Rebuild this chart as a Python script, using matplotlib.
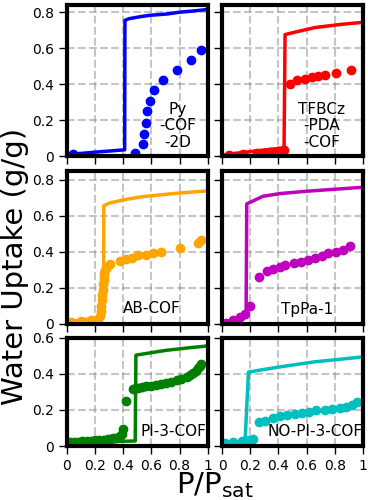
import numpy as np
import matplotlib.pyplot as plt
from matplotlib.ticker import FormatStrFormatter

plt.rcParams['mathtext.default'] = 'regular'

names = ["Py\n-COF\n-2D", "TFBCz\n-PDA\n-COF", "AB-COF", "TpPa-1", "PI-3-COF", "NO-PI-3-COF"]
colors = ['b', 'r', 'orange', 'm', 'g', 'c']

# simulated isotherms (lines)
py_line_x = [0, 0.1, 0.2, 0.3, 0.41, 0.412, 0.44, 0.52, 0.59, 0.71, 0.8, 0.9, 1.0]
py_line_y = [0.011, 0.017, 0.024, 0.03, 0.037, 0.755, 0.764, 0.775, 0.783, 0.79, 0.80, 0.807, 0.815]
tf_line_x = [0, 0.1, 0.2, 0.3, 0.44, 0.447, 0.52, 0.66, 0.85, 1.0]
tf_line_y = [0.008, 0.018, 0.027, 0.036, 0.048, 0.676, 0.69, 0.715, 0.733, 0.744]
ab_line_x = [0, 0.1, 0.22, 0.26, 0.262, 0.305, 0.42, 0.54, 0.78, 1.0]
ab_line_y = [0.01, 0.02, 0.035, 0.04, 0.655, 0.67, 0.69, 0.705, 0.724, 0.737]
tp_line_x = [0, 0.08, 0.17, 0.175, 0.29, 0.41, 0.6, 0.8, 1.0]
tp_line_y = [0.0, 0.018, 0.035, 0.665, 0.707, 0.722, 0.735, 0.746, 0.757]
pi_line_x = [0, 0.1, 0.2, 0.3, 0.4, 0.485, 0.49, 0.7, 0.87, 1.0]
pi_line_y = [0.018, 0.02, 0.022, 0.024, 0.026, 0.028, 0.504, 0.53, 0.545, 0.555]
no_line_x = [0, 0.08, 0.163, 0.187, 0.3, 0.42, 0.66, 0.85, 1.0]
no_line_y = [0.005, 0.016, 0.028, 0.41, 0.425, 0.44, 0.467, 0.482, 0.494]

# experimental isotherms (points)
py_pts_x = [0.04, 0.48, 0.54, 0.55, 0.56, 0.57, 0.59, 0.62, 0.68, 0.78, 0.88, 0.95]
py_pts_y = [0.015, 0.02, 0.07, 0.126, 0.185, 0.25, 0.31, 0.367, 0.426, 0.478, 0.535, 0.593]
tf_pts_x = [0.05, 0.15, 0.25, 0.3, 0.35, 0.4, 0.44, 0.48, 0.53, 0.59, 0.64, 0.68, 0.73, 0.81, 0.915]
tf_pts_y = [0.01, 0.015, 0.02, 0.02, 0.025, 0.03, 0.035, 0.404, 0.426, 0.431, 0.44, 0.444, 0.45, 0.463, 0.478]
ab_pts_x = [0.03, 0.1, 0.17, 0.22, 0.235, 0.24, 0.245, 0.25, 0.25, 0.255, 0.255, 0.26, 0.26, 0.265,
            0.27, 0.28, 0.305, 0.375, 0.42, 0.46, 0.505, 0.565, 0.61, 0.67, 0.80, 0.93, 0.955]
ab_pts_y = [0.01, 0.015, 0.02, 0.026, 0.045, 0.07, 0.1, 0.13, 0.16, 0.19, 0.22, 0.245, 0.265, 0.283,
            0.3, 0.31, 0.33, 0.347, 0.357, 0.366, 0.379, 0.384, 0.393, 0.397, 0.42, 0.449, 0.467]
tp_pts_x = [0.03, 0.08, 0.13, 0.165, 0.2, 0.26, 0.32, 0.36, 0.41, 0.45, 0.51, 0.56, 0.61, 0.66,
            0.71, 0.75, 0.81, 0.86, 0.91]
tp_pts_y = [0.005, 0.02, 0.04, 0.055, 0.1, 0.26, 0.29, 0.305, 0.313, 0.325, 0.335, 0.345, 0.355, 0.365,
            0.375, 0.39, 0.40, 0.41, 0.43]
pi_pts_x = [0.02, 0.05, 0.08, 0.11, 0.14, 0.17, 0.2, 0.23, 0.26, 0.29, 0.31, 0.33, 0.35, 0.37, 0.38,
            0.39, 0.395, 0.42, 0.47, 0.49, 0.505, 0.53, 0.565, 0.6, 0.635, 0.67, 0.705, 0.74,
            0.78, 0.81, 0.85, 0.875, 0.895, 0.915, 0.93, 0.945, 0.955]
pi_pts_y = [0.02, 0.022, 0.024, 0.026, 0.028, 0.03, 0.032, 0.034, 0.036, 0.038, 0.04, 0.042, 0.045,
            0.05, 0.055, 0.065, 0.094, 0.25, 0.315, 0.32, 0.323, 0.327, 0.332, 0.335, 0.338, 0.343,
            0.35, 0.357, 0.365, 0.373, 0.384, 0.394, 0.406, 0.418, 0.43, 0.443, 0.454]
no_pts_x = [0.02, 0.08, 0.14, 0.19, 0.22, 0.26, 0.305, 0.36, 0.41, 0.46, 0.52, 0.565, 0.62, 0.67,
            0.73, 0.78, 0.84, 0.88, 0.92, 0.955]
no_pts_y = [0.015, 0.02, 0.028, 0.033, 0.037, 0.131, 0.14, 0.157, 0.166, 0.172, 0.177, 0.185, 0.19,
            0.197, 0.2, 0.205, 0.212, 0.218, 0.227, 0.245]

lines = [(py_line_x, py_line_y), (tf_line_x, tf_line_y), (ab_line_x, ab_line_y),
         (tp_line_x, tp_line_y), (pi_line_x, pi_line_y), (no_line_x, no_line_y)]
points = [(py_pts_x, py_pts_y), (tf_pts_x, tf_pts_y), (ab_pts_x, ab_pts_y),
          (tp_pts_x, tp_pts_y), (pi_pts_x, pi_pts_y), (no_pts_x, no_pts_y)]
label_pos = [(0.79, 0.17), (0.707, 0.17), (0.6, 0.083), (0.606, 0.08), (0.754, 0.08), (0.658, 0.08)]
ytops = [0.84, 0.84, 0.85, 0.85, 0.6, 0.6]

fig, axes = plt.subplots(3, 2, figsize=(3.68, 5), dpi=100, sharex=True,
                         gridspec_kw=dict(height_ratios=[0.84, 0.85, 0.6]))
fig.subplots_adjust(left=0.182, right=0.986, top=0.99, bottom=0.108, hspace=0.102, wspace=0.103)

for i, ax in enumerate(axes.flat):
    ax.plot(lines[i][0], lines[i][1], '-', color=colors[i], lw=2.5)
    ax.plot(points[i][0], points[i][1], 'o', color=colors[i], ms=6)
    ax.text(label_pos[i][0], label_pos[i][1], names[i], ha='center', va='center',
            fontsize=11, linespacing=1.1)
    ax.set_xlim(0, 1)
    ax.set_ylim(0, ytops[i])
    ax.set_xticks([0, 0.2, 0.4, 0.6, 0.8, 1.0])
    ax.set_yticks(np.arange(0, ytops[i] + 0.01, 0.2))
    ax.xaxis.set_major_formatter(FormatStrFormatter('%g'))
    ax.yaxis.set_major_formatter(FormatStrFormatter('%g'))
    ax.grid(True, ls='--', color='gray', alpha=0.45, lw=1.5)
    ax.set_axisbelow(True)
    for s in ax.spines.values():
        s.set_linewidth(3)
    ax.tick_params(direction='out', length=6, width=1, labelsize=10)
    if i % 2 == 1:
        ax.tick_params(labelleft=False)

fig.text(0.042, 0.468, "Water Uptake (g/g)", rotation=90, ha='center', va='center', fontsize=21)
fig.text(0.584, 0.014, "P/P$_{sat}$", ha='center', va='baseline', fontsize=21)

fig.savefig("out.png", dpi=100)
